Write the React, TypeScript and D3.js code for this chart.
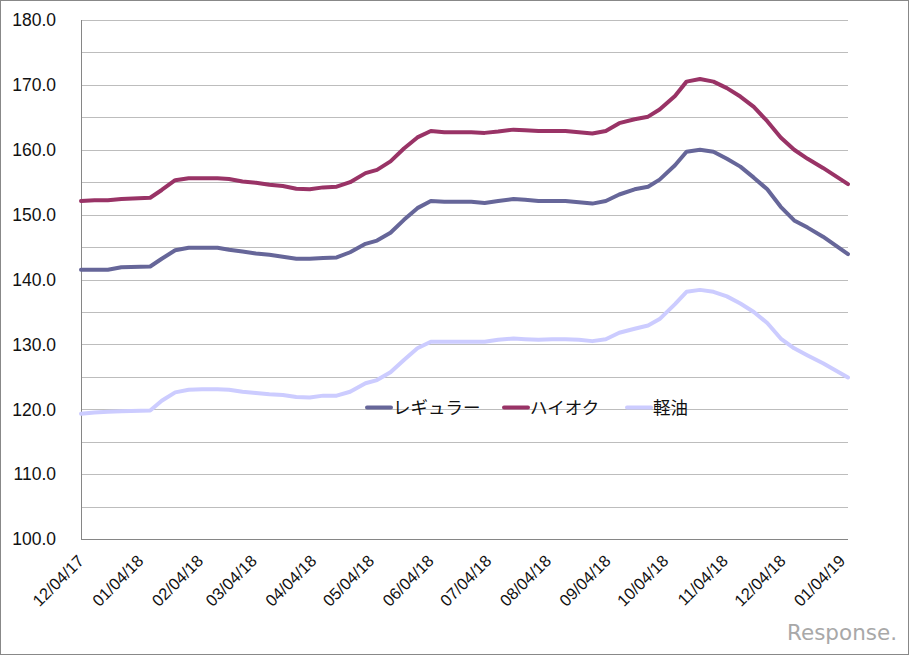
import React from "react";
import * as d3 from "d3";

const dates: string[] = [
  "2017-12-04", "2017-12-11", "2017-12-18", "2017-12-25",
  "2018-01-09", "2018-01-15", "2018-01-22", "2018-01-29",
  "2018-02-05", "2018-02-13", "2018-02-19", "2018-02-26",
  "2018-03-05", "2018-03-12", "2018-03-19", "2018-03-26",
  "2018-04-02", "2018-04-09", "2018-04-16", "2018-04-23", "2018-05-01",
  "2018-05-07", "2018-05-14", "2018-05-21", "2018-05-28",
  "2018-06-04", "2018-06-11", "2018-06-18", "2018-06-25",
  "2018-07-02", "2018-07-09", "2018-07-17", "2018-07-23", "2018-07-30",
  "2018-08-06", "2018-08-13", "2018-08-20", "2018-08-27",
  "2018-09-03", "2018-09-10", "2018-09-18", "2018-09-25",
  "2018-10-01", "2018-10-09", "2018-10-15", "2018-10-22", "2018-10-29",
  "2018-11-05", "2018-11-12", "2018-11-19", "2018-11-26",
  "2018-12-03", "2018-12-10", "2018-12-17", "2018-12-25",
  "2019-01-07",
];

const regular: number[] = [
  141.5, 141.5, 141.5, 141.9,
  142.0, 143.2, 144.5, 144.9,
  144.9, 144.9, 144.6, 144.3,
  144.0, 143.8, 143.5, 143.2,
  143.2, 143.3, 143.4, 144.2, 145.5,
  146.0, 147.2, 149.2, 151.0,
  152.1, 152.0, 152.0, 152.0,
  151.8, 152.1, 152.4, 152.3, 152.1,
  152.1, 152.1, 151.9, 151.7,
  152.1, 153.1, 153.9, 154.3,
  155.4, 157.6, 159.7, 160.0, 159.7,
  158.6, 157.4, 155.7, 153.9,
  151.2, 149.1, 148.0, 146.6,
  143.9,
];

const premium: number[] = [
  152.1, 152.2, 152.2, 152.4,
  152.6, 153.8, 155.3, 155.6,
  155.6, 155.6, 155.5, 155.1,
  154.9, 154.6, 154.4, 154.0,
  153.9, 154.2, 154.3, 155.0, 156.4,
  156.9, 158.2, 160.2, 161.9,
  162.9, 162.7, 162.7, 162.7,
  162.6, 162.8, 163.1, 163.0, 162.9,
  162.9, 162.9, 162.7, 162.5,
  162.9, 164.1, 164.7, 165.1,
  166.2, 168.3, 170.5, 170.9, 170.5,
  169.5, 168.2, 166.6, 164.4,
  161.9, 160.0, 158.6, 157.2,
  154.7,
];

const diesel: number[] = [
  119.3, 119.5, 119.6, 119.7,
  119.8, 121.3, 122.6, 123.0,
  123.1, 123.1, 123.0, 122.7,
  122.5, 122.3, 122.2, 121.9,
  121.8, 122.1, 122.1, 122.7, 124.0,
  124.5, 125.7, 127.6, 129.4,
  130.4, 130.4, 130.4, 130.4,
  130.4, 130.7, 130.9, 130.8, 130.7,
  130.8, 130.8, 130.7, 130.5,
  130.8, 131.8, 132.4, 132.9,
  133.9, 136.2, 138.1, 138.4, 138.1,
  137.4, 136.3, 135.0, 133.3,
  130.9, 129.4, 128.3, 127.1,
  124.9,
];

const seriesNames: string[] = ["レギュラー", "ハイオク", "軽油"];
const seriesColors: string[] = ["#666699", "#993366", "#ccccff"];

const xTickLabels: string[] = [
  "12/04/17", "01/04/18", "02/04/18", "03/04/18", "04/04/18", "05/04/18", "06/04/18",
  "07/04/18", "08/04/18", "09/04/18", "10/04/18", "11/04/18", "12/04/18", "01/04/19",
];

const W = 909;
const H = 655;
const L = 81;
const R = 848;
const T = 20;
const B = 539;

export default function App() {
  const parse = d3.timeParse("%Y-%m-%d");
  const parseTick = d3.timeParse("%m/%d/%y");
  const xs = dates.map((d) => parse(d) as Date);
  const x = d3.scaleTime().domain([xs[0], xs[xs.length - 1]]).range([L, R]);
  const y = d3.scaleLinear().domain([100, 180]).range([B, T]);
  const grid = d3.range(100, 181, 5);
  const labels = d3.range(100, 181, 10);
  const fmt = d3.format(".1f");
  const all = [regular, premium, diesel];
  const line = d3
    .line<number>()
    .x((_, i) => x(xs[i]))
    .y((v) => y(v));

  const legendX = [365, 502, 625];
  const legendY = 407.5;

  return (
    <svg
      width={W}
      height={H}
      style={{ position: "absolute", left: 0, top: 0, background: "#fff" }}
      fontFamily="'Liberation Sans', Arial, sans-serif"
    >
      <rect x={0.5} y={0.5} width={W - 1} height={H - 1} fill="#fff" stroke="#888" />
      {grid.map((g) => (
        <line key={g} x1={L} x2={R} y1={Math.round(y(g)) + 0.5} y2={Math.round(y(g)) + 0.5} stroke="#bdbdbd" strokeWidth={1} />
      ))}
      <line x1={L + 0.5} x2={L + 0.5} y1={T} y2={B + 0.5} stroke="#868686" />
      <line x1={L} x2={R} y1={B + 0.5} y2={B + 0.5} stroke="#868686" />
      {labels.map((v) => (
        <text key={v} x={56} y={y(v)} dy="0.36em" textAnchor="end" fontSize={17.5} fill="#111">
          {fmt(v)}
        </text>
      ))}
      {xTickLabels.map((t) => {
        const px = x(parseTick(t) as Date);
        return (
          <text
            key={t}
            transform={`translate(${px + 4},${562}) rotate(-45)`}
            textAnchor="end"
            fontSize={16.5}
            fill="#111"
          >
            {t}
          </text>
        );
      })}
      {all.map((s, i) => (
        <path
          key={i}
          d={line(s) || ""}
          fill="none"
          stroke={seriesColors[i]}
          strokeWidth={4}
          strokeLinejoin="round"
          strokeLinecap="round"
        />
      ))}
      {seriesNames.map((n, i) => (
        <g key={n}>
          <line
            x1={legendX[i] + 2}
            x2={legendX[i] + 26}
            y1={legendY}
            y2={legendY}
            stroke={seriesColors[i]}
            strokeWidth={4}
            strokeLinecap="round"
          />
          <text
            x={legendX[i] + 28}
            y={legendY}
            dy="0.36em"
            fontSize={17.5}
            fontFamily="'Noto Sans CJK JP', sans-serif"
            fill="#111"
          >
            {n}
          </text>
        </g>
      ))}
      <text
        x={787}
        y={640}
        fontSize={22}
        fill="#a8a8a8"
        textLength={110}
        lengthAdjust="spacingAndGlyphs"
        fontFamily="'DejaVu Sans', sans-serif"
      >
        Response.
      </text>
    </svg>
  );
}
